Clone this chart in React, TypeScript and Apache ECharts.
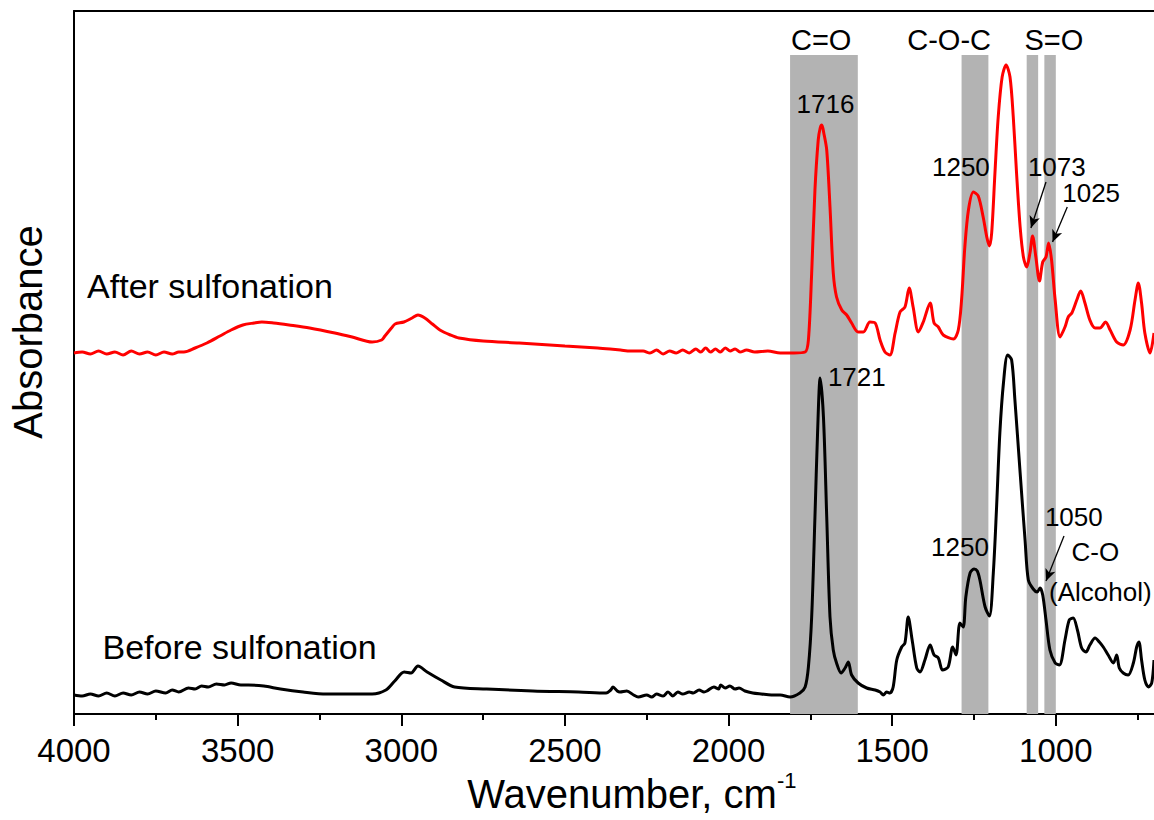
import React, { useEffect, useRef } from "react";
import * as echarts from "echarts";

const FONT = '"Liberation Sans", Arial, Helvetica, sans-serif';

// Spectra: [wavenumber (cm-1), absorbance (arbitrary units)]
const afterSulfonation: [number, number][] = [
  [4000, 361], [3975, 362], [3950, 360], [3925, 363], [3900, 360], [3875, 362], [3850, 359], [3825, 363],
  [3800, 360], [3775, 362], [3750, 359], [3725, 362], [3700, 360], [3680, 362], [3664, 362], [3630, 366],
  [3594, 371], [3554, 378], [3520, 384], [3484, 389], [3450, 391], [3426, 392], [3390, 391], [3343, 389],
  [3280, 386], [3203, 381], [3150, 377], [3089, 372], [3060, 374], [3050, 378], [3030, 386], [3019, 390],
  [2992, 392], [2967, 396], [2949, 399], [2928, 396], [2905, 390], [2882, 384], [2850, 379], [2824, 376],
  [2750, 373], [2640, 371], [2500, 368], [2400, 366], [2362, 365], [2330, 364], [2300, 363], [2261, 363],
  [2240, 361], [2220, 364], [2200, 360], [2180, 363], [2160, 361], [2140, 364], [2120, 361], [2100, 365],
  [2085, 362], [2070, 366], [2055, 362], [2040, 365], [2025, 362], [2010, 366], [1995, 363], [1980, 365],
  [1965, 362], [1945, 364], [1920, 362], [1880, 363], [1842, 361], [1800, 361], [1766, 362], [1756, 374],
  [1746, 441], [1736, 524], [1726, 574], [1720, 586], [1715, 589], [1709, 581], [1700, 564], [1690, 507],
  [1680, 441], [1670, 417], [1654, 404], [1639, 399], [1624, 391], [1604, 382], [1588, 382], [1568, 392],
  [1552, 391], [1537, 374], [1522, 362], [1507, 359], [1491, 381], [1476, 402], [1461, 407], [1448, 426],
  [1436, 407], [1420, 382], [1405, 392], [1384, 411], [1372, 391], [1359, 387], [1344, 379], [1313, 375],
  [1298, 384], [1288, 414], [1278, 467], [1267, 504], [1252, 522], [1237, 518], [1222, 497], [1211, 477],
  [1203, 468], [1196, 481], [1186, 541], [1176, 597], [1164, 637], [1152, 649], [1140, 637], [1130, 597],
  [1120, 541], [1109, 487], [1099, 457], [1089, 447], [1079, 461], [1071, 478], [1061, 457], [1050, 433],
  [1040, 452], [1030, 457], [1022, 471], [1013, 454], [1002, 414], [987, 377], [972, 387], [962, 397],
  [951, 401], [936, 414], [924, 423], [911, 411], [896, 394], [880, 386], [865, 386], [848, 392],
  [834, 384], [814, 372], [794, 369], [773, 384], [758, 414], [748, 431], [738, 411], [728, 381],
  [712, 361], [700, 381],
];

const beforeSulfonation: [number, number][] = [
  [4000, 19], [3975, 18], [3950, 20], [3925, 18], [3900, 21], [3875, 18], [3850, 21], [3825, 19],
  [3800, 22], [3775, 20], [3750, 23], [3720, 21], [3700, 24], [3680, 22], [3650, 26], [3630, 25],
  [3610, 28], [3590, 27], [3565, 30], [3540, 29], [3520, 31], [3490, 29], [3467, 29], [3420, 28],
  [3369, 25], [3300, 22], [3229, 20], [3150, 20], [3089, 20], [3047, 24], [3020, 33], [2991, 42],
  [2970, 41], [2949, 48], [2921, 42], [2879, 34], [2837, 27], [2739, 25], [2598, 23], [2458, 22],
  [2374, 21], [2360, 24], [2353, 27], [2340, 23], [2332, 22], [2311, 23], [2290, 19], [2276, 17],
  [2250, 19], [2235, 17], [2220, 20], [2200, 18], [2185, 22], [2170, 18], [2155, 22], [2140, 20],
  [2120, 22], [2108, 21], [2090, 24], [2075, 22], [2066, 23], [2045, 27], [2030, 25], [2024, 29],
  [2010, 26], [1996, 28], [1980, 25], [1968, 26], [1950, 23], [1926, 21], [1900, 20], [1869, 19],
  [1842, 19], [1812, 17], [1782, 21], [1766, 27], [1756, 47], [1746, 97], [1736, 197], [1728, 281],
  [1720, 336], [1710, 297], [1700, 197], [1690, 97], [1680, 64], [1670, 51], [1656, 41], [1644, 46],
  [1634, 52], [1624, 39], [1604, 31], [1578, 26], [1552, 24], [1537, 22], [1527, 19], [1517, 22],
  [1507, 21], [1497, 27], [1486, 54], [1471, 67], [1461, 71], [1451, 97], [1439, 74], [1425, 46],
  [1415, 42], [1400, 54], [1384, 69], [1372, 59], [1359, 56], [1346, 44], [1329, 47], [1315, 67],
  [1305, 59], [1293, 91], [1283, 87], [1275, 117], [1262, 141], [1250, 145], [1240, 143], [1232, 134],
  [1216, 107], [1203, 98], [1191, 141], [1181, 207], [1171, 281], [1160, 331], [1147, 359], [1135, 354],
  [1125, 314], [1109, 241], [1094, 174], [1084, 134], [1069, 125], [1057, 122], [1048, 126], [1040, 119],
  [1030, 94], [1018, 64], [1002, 51], [989, 49], [972, 74], [959, 94], [947, 96], [934, 84],
  [921, 66], [908, 62], [896, 69], [880, 76], [867, 72], [855, 67], [840, 59], [824, 51],
  [814, 59], [806, 46], [794, 41], [779, 39], [763, 51], [753, 67], [746, 72], [738, 54],
  [728, 34], [717, 27], [707, 31], [700, 54],
];

// Shaded assignment bands
const bandFrom = [1812, 1288, 1089, 1035];
const bandTo = [1605, 1206, 1054, 1000];
const bandTop = 659;

// Axis ticks
const xMajorTicks = [4000, 3500, 3000, 2500, 2000, 1500, 1000];
const xMinorTicks = [3750, 3250, 2750, 2250, 1750, 1250, 750];

// Annotations
const annotationText = ["C=O", "C-O-C", "S=O", "1716", "1250", "1073", "1025", "1721", "1250", "1050", "C-O", "(Alcohol)"];
const annotationWave = [1717, 1326, 1006, 1704, 1290, 997, 892, 1608, 1293, 945, 879, 864];
const annotationAbs = [674, 674, 674, 610, 547, 547, 521, 337, 167, 197, 162, 122];
const annotationSize = [29, 29, 29, 26, 26, 26, 26, 26, 26, 26, 26, 26];

const curveLabelText = ["After sulfonation", "Before sulfonation"];
const curveLabelWave = [3960, 3913];
const curveLabelAbs = [428, 67];

const arrowFrom: [number, number][] = [[1030, 532], [965, 507], [975, 178]];
const arrowTo: [number, number][] = [[1076, 486], [1010, 472], [1030, 133]];

export default function App() {
  const ref = useRef<HTMLDivElement>(null);

  useEffect(() => {
    if (!ref.current) return;
    const chart = echarts.init(ref.current, undefined, { renderer: "svg" });

    const bands = bandFrom.map((f, i) => [
      { xAxis: f, yAxis: 0 },
      { xAxis: bandTo[i], yAxis: bandTop },
    ]);

    const annotations = [
      ...annotationText.map((t, i) => ({
        name: t,
        value: [annotationWave[i], annotationAbs[i]],
        label: { fontSize: annotationSize[i], align: "center", color: "#000000", opacity: 1 },
      })),
      ...curveLabelText.map((t, i) => ({
        name: t,
        value: [curveLabelWave[i], curveLabelAbs[i]],
        label: { fontSize: 34, align: "left", color: "#000000", opacity: 1 },
      })),
    ];

    const xBase = {
      type: "value",
      min: 700,
      max: 4000,
      inverse: true,
      gridIndex: 0,
      splitLine: { show: false },
    };

    chart.setOption({
      animation: false,
      backgroundColor: "#ffffff",
      grid: { left: 74, right: 0, top: 11, bottom: 106, containLabel: false },
      xAxis: [
        {
          ...xBase,
          position: "bottom",
          axisLine: { show: true, onZero: false, lineStyle: { color: "#000", width: 2 } },
          axisTick: { show: true, customValues: xMajorTicks, length: 12, inside: false, lineStyle: { color: "#000", width: 2 } },
          axisLabel: {
            show: true,
            customValues: xMajorTicks,
            margin: 20,
            fontSize: 33,
            color: "#000000",
            fontFamily: FONT,
            formatter: (v: number) => String(v),
          },
        },
        {
          ...xBase,
          position: "bottom",
          axisLine: { show: false, onZero: false },
          axisTick: { show: true, customValues: xMinorTicks, length: 6, inside: false, lineStyle: { color: "#000", width: 2 } },
          axisLabel: { show: false },
        },
        {
          ...xBase,
          position: "top",
          axisLine: { show: true, onZero: false, lineStyle: { color: "#000", width: 2 } },
          axisTick: { show: false },
          axisLabel: { show: false },
        },
      ],
      yAxis: {
        type: "value",
        min: 0,
        max: 703,
        axisLine: { show: true, onZero: false, lineStyle: { color: "#000", width: 2 } },
        axisTick: { show: false },
        axisLabel: { show: false },
        splitLine: { show: false },
      },
      series: [
        {
          type: "line",
          name: "bands",
          data: [],
          z: 1,
          silent: true,
          markArea: { silent: true, itemStyle: { color: "#b3b3b3", opacity: 1 }, data: bands },
        },
        {
          type: "line",
          name: "Before sulfonation",
          data: beforeSulfonation,
          showSymbol: false,
          smooth: 0.3,
          z: 3,
          lineStyle: { color: "#000000", width: 3 },
          itemStyle: { color: "#000000" },
        },
        {
          type: "line",
          name: "After sulfonation",
          data: afterSulfonation,
          showSymbol: false,
          smooth: 0.3,
          z: 3,
          lineStyle: { color: "#ff0000", width: 3 },
          itemStyle: { color: "#ff0000" },
        },
        {
          type: "scatter",
          name: "annotations",
          data: annotations,
          symbolSize: 1,
          z: 4,
          silent: true,
          itemStyle: { color: "rgba(0,0,0,0)", opacity: 1 },
          label: {
            show: true,
            position: "inside",
            formatter: (p: any) => p.name,
            color: "#000000",
            opacity: 1,
            fontFamily: FONT,
            verticalAlign: "middle",
            textBorderWidth: 0,
          },
          markLine: {
            silent: true,
            symbol: ["none", "arrow"],
            symbolSize: [8, 12],
            label: { show: false },
            lineStyle: { color: "#000", width: 1.3, type: "solid", opacity: 1 },
            data: arrowFrom.map((f, i) => [{ coord: f }, { coord: arrowTo[i] }]),
          },
        },
      ],
      graphic: [
        {
          type: "text",
          x: 28,
          y: 332,
          rotation: Math.PI / 2,
          style: {
            text: "Absorbance",
            fontSize: 40,
            fontFamily: FONT,
            fill: "#000",
            align: "center",
            verticalAlign: "middle",
          },
        },
        {
          type: "text",
          x: 622,
          y: 794,
          style: {
            text: "Wavenumber, cm",
            fontSize: 40,
            fontFamily: FONT,
            fill: "#000",
            align: "center",
            verticalAlign: "middle",
          },
        },
        {
          type: "text",
          x: 777,
          y: 780,
          style: {
            text: "-1",
            fontSize: 22,
            fontFamily: FONT,
            fill: "#000",
            align: "left",
            verticalAlign: "middle",
          },
        },
      ],
    });

    return () => chart.dispose();
  }, []);

  return (
    <div
      ref={ref}
      style={{ position: "fixed", left: 0, top: 0, width: 1154, height: 820, background: "#fff" }}
    />
  );
}
